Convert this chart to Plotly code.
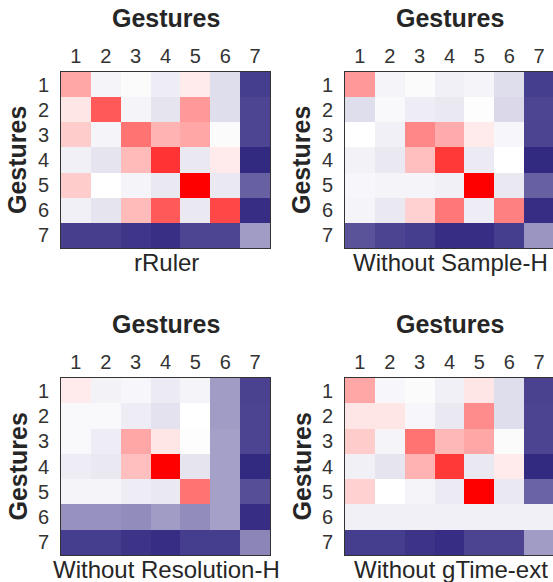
import plotly.graph_objects as go

labels = [1, 2, 3, 4, 5, 6, 7]
titles = ["rRuler", "Without Sample-H", "Without Resolution-H", "Without gTime-ext"]

m_rruler = [
    [0.35, -0.05, -0.02, -0.08, 0.08, -0.15, -0.88],
    [0.10, 0.65, -0.05, -0.12, 0.40, -0.15, -0.84],
    [0.20, -0.05, 0.55, 0.30, 0.35, -0.02, -0.84],
    [-0.07, -0.12, 0.27, 0.80, -0.10, 0.08, -0.97],
    [0.20, 0.00, -0.05, -0.10, 1.00, -0.10, -0.72],
    [-0.07, -0.12, 0.27, 0.65, -0.10, 0.72, -0.95],
    [-0.87, -0.87, -0.91, -0.94, -0.84, -0.84, -0.45],
]
m_sample = [
    [0.40, -0.05, -0.02, -0.07, -0.05, -0.15, -0.88],
    [-0.15, -0.03, -0.08, -0.10, -0.01, -0.17, -0.84],
    [0.00, -0.07, 0.47, 0.33, 0.08, -0.04, -0.85],
    [-0.06, -0.10, 0.25, 0.78, -0.09, 0.00, -0.97],
    [-0.04, -0.05, -0.05, -0.07, 1.00, -0.10, -0.72],
    [-0.05, -0.10, 0.18, 0.53, -0.08, 0.50, -0.95],
    [-0.78, -0.85, -0.88, -0.95, -0.95, -0.88, -0.48],
]
m_resolution = [
    [0.08, -0.06, -0.04, -0.09, -0.05, -0.45, -0.86],
    [-0.03, -0.03, -0.08, -0.13, 0.00, -0.45, -0.85],
    [-0.03, -0.08, 0.35, 0.10, -0.01, -0.43, -0.85],
    [-0.08, -0.10, 0.25, 1.00, -0.12, -0.43, -0.97],
    [-0.05, -0.05, -0.08, -0.10, 0.55, -0.43, -0.80],
    [-0.50, -0.50, -0.52, -0.45, -0.52, -0.43, -0.95],
    [-0.88, -0.88, -0.92, -0.95, -0.88, -0.88, -0.55],
]
m_gtime = [
    [0.35, -0.04, -0.02, -0.07, 0.10, -0.15, -0.86],
    [0.10, 0.10, -0.04, -0.10, 0.45, -0.15, -0.85],
    [0.20, -0.05, 0.55, 0.28, 0.35, -0.02, -0.85],
    [-0.07, -0.12, 0.30, 0.78, -0.10, 0.08, -0.97],
    [0.18, 0.00, -0.05, -0.09, 1.00, -0.10, -0.70],
    [-0.07, -0.07, -0.07, -0.07, -0.07, -0.07, -0.07],
    [-0.88, -0.88, -0.92, -0.95, -0.85, -0.85, -0.45],
]
matrices = [m_rruler, m_sample, m_resolution, m_gtime]

W, H = 553, 582
colorscale = [[0.0, "rgb(44,34,125)"], [0.5, "rgb(255,255,255)"], [1.0, "rgb(255,0,0)"]]
FONT = "Liberation Sans, Arial, sans-serif"
TXT = "#262626"

# pixel boxes (left, right, top, bottom)
boxes = [(61, 270, 72, 248), (345, 553, 72, 248), (61, 270, 378, 555), (345, 553, 378, 555)]

fig = go.Figure()
layout = dict(width=W, height=H, margin=dict(l=0, r=0, t=0, b=0),
              paper_bgcolor="white", plot_bgcolor="white", showlegend=False,
              font=dict(family=FONT, color=TXT))
annotations = []
for i, (mat, title, box) in enumerate(zip(matrices, titles, boxes)):
    n = i + 1
    xa = "x" if n == 1 else f"x{n}"
    ya = "y" if n == 1 else f"y{n}"
    fig.add_trace(go.Heatmap(z=mat, x=labels, y=labels, colorscale=colorscale,
                             zmin=-1, zmax=1, showscale=False, xaxis=xa, yaxis=ya,
                             hoverinfo="skip"))
    l, r, t, b = box
    right_clip = (r == 553)
    xr = [0.5, 7.5 - (1.0 / 30.0)] if right_clip else [0.5, 7.5]
    layout["xaxis" if n == 1 else f"xaxis{n}"] = dict(
        domain=[l / W, r / W], anchor=ya, range=xr, side="top",
        tickmode="array", tickvals=labels, ticktext=[str(v) for v in labels],
        tickfont=dict(size=20, color="#333333"), ticks="", ticklabelstandoff=0,
        showgrid=False, zeroline=False,
        showline=True, mirror=True, linecolor="#333333", linewidth=1, fixedrange=True)
    layout["yaxis" if n == 1 else f"yaxis{n}"] = dict(
        domain=[1 - b / H, 1 - t / H], anchor=xa, range=[7.5, 0.5],
        tickmode="array", tickvals=labels, ticktext=[str(v) for v in labels],
        tickfont=dict(size=20, color="#333333"), ticks="outside", ticklen=7,
        tickcolor="rgba(0,0,0,0)", showgrid=False, zeroline=False,
        showline=True, mirror=not right_clip, linecolor="#333333", linewidth=1, fixedrange=True)
    cx = (l + (r + 1 if right_clip else r)) / 2.0
    cy = (t + b) / 2.0
    annotations.append(dict(text="<b>Gestures</b>", x=cx / W, y=1 - (t - 54) / H,
                            xref="paper", yref="paper", showarrow=False,
                            xanchor="center", yanchor="middle",
                            font=dict(size=25, color=TXT, family=FONT)))
    annotations.append(dict(text="<b>Gestures</b>", x=(l - 44) / W, y=1 - cy / H,
                            xref="paper", yref="paper", showarrow=False, textangle=-90,
                            xanchor="center", yanchor="middle",
                            font=dict(size=25, color=TXT, family=FONT)))
    annotations.append(dict(text=title, x=(cx + 1) / W, y=1 - (b + 14) / H,
                            xref="paper", yref="paper", showarrow=False,
                            xanchor="center", yanchor="middle",
                            font=dict(size=24, color=TXT, family=FONT)))
layout["annotations"] = annotations
fig.update_layout(**layout)
fig.write_html("out.html")
